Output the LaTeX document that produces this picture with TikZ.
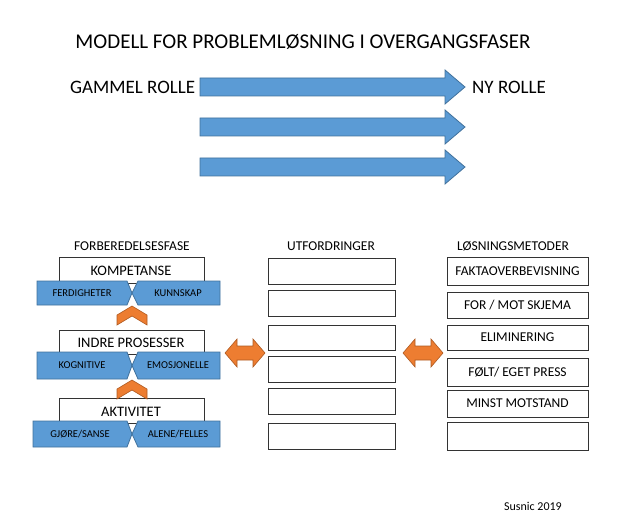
\documentclass[tikz,border=0pt]{standalone}
\usepackage{fontspec}
\setmainfont{Carlito}
\begin{document}
\begin{tikzpicture}[x=1pt,y=-1pt,
 blue/.style={fill={rgb,255:red,91;green,155;blue,213},draw={rgb,255:red,65;green,113;blue,156},line width=0.8pt},
 org/.style={fill={rgb,255:red,237;green,125;blue,49},draw={rgb,255:red,174;green,90;blue,33},line width=0.6pt},
 box/.style={draw=black!80,line width=0.7pt,fill=white},
 lbl/.style={font=\fontsize{13.5}{16}\selectfont,inner sep=0pt},
 sml/.style={font=\fontsize{10.5}{12}\selectfont,inner sep=0pt}]
\useasboundingbox (0,0) rectangle (619,524);
\node[font=\fontsize{21}{24}\selectfont] (title) at (303,42) {MODELL FOR PROBLEMLØSNING I OVERGANGSFASER};
\foreach \y in {87,127,167}{
 \draw[blue] (200,\y-9) -- (445,\y-9) -- (445,\y-17) -- (465,\y) -- (445,\y+17) -- (445,\y+9) -- (200,\y+9) -- cycle;
}
\node[font=\fontsize{19}{22}\selectfont,anchor=west,inner sep=0pt] (old) at (70,87) {GAMMEL ROLLE};
\node[font=\fontsize{19}{22}\selectfont,anchor=west,inner sep=0pt] (new) at (472,87) {NY ROLLE};
% headers
\node[lbl] (h1) at (132,246) {FORBEREDELSESFASE};
\node[lbl] (h2) at (331,246) {UTFORDRINGER};
\node[lbl] (h3) at (513,246) {LØSNINGSMETODER};
% left stack
\foreach \bt/\bb/\rb/\txt/\l/\r/\xl in {257/281/305/KOMPETANSE/FERDIGHETER/KUNNSKAP/37, 330/352/379/INDRE PROSESSER/KOGNITIVE/EMOSJONELLE/37, 398/421/447/AKTIVITET/{GJØRE\slash SANSE}/{ALENE\slash FELLES}/33}{
 \draw[box] (59,\bt) rectangle (204,\bb+2);
 \node[font=\fontsize{14.5}{17}\selectfont,inner sep=0pt] at (131,{(\bt+\bb)/2+2}) {\txt};
 \draw[blue] (\xl,\bb) -- (127,\bb) -- (132,{(\bb+\rb)/2}) -- (127,\rb) -- (\xl,\rb) -- cycle;
 \draw[blue] (220,\bb) -- (138,\bb) -- (132,{(\bb+\rb)/2}) -- (138,\rb) -- (220,\rb) -- cycle;
 \node[sml] at ({(\xl+127)/2},{(\bb+\rb)/2}) {\l};
 \node[sml] at (178,{(\bb+\rb)/2}) {\r};
}
\foreach \t in {306,380}{
 \draw[org] (117,\t+19) -- (117,\t+9) -- (132,\t) -- (147,\t+9) -- (147,\t+19) -- (132,\t+10) -- cycle;
}
% double arrows
\foreach \x in {225,403}{
 \draw[org] (\x,353) -- (\x+12,339) -- (\x+12,346) -- (\x+28,346) -- (\x+28,339) -- (\x+40,353) -- (\x+28,367) -- (\x+28,360) -- (\x+12,360) -- (\x+12,367) -- cycle;
}
% middle boxes
\foreach \t/\b in {258/284,290/316,325/350,356/382,388/414,423/449}{
 \draw[box] (268,\t) rectangle (395,\b);
}
% right boxes
\foreach \t/\b/\txt in {257/285/FAKTAOVERBEVISNING,292/318/{FOR \slash{} MOT SKJEMA},325/350/ELIMINERING,358/386/{FØLT\slash{} EGET PRESS},390/417/MINST MOTSTAND,422/450/{}}{
 \draw[box] (447,\t) rectangle (588,\b);
 \node[lbl] at (517.5,{(\t+\b)/2}) {\txt};
}
\node[font=\fontsize{12}{14}\selectfont] (sig) at (533,506) {Susnic 2019};
\end{tikzpicture}
\end{document}
